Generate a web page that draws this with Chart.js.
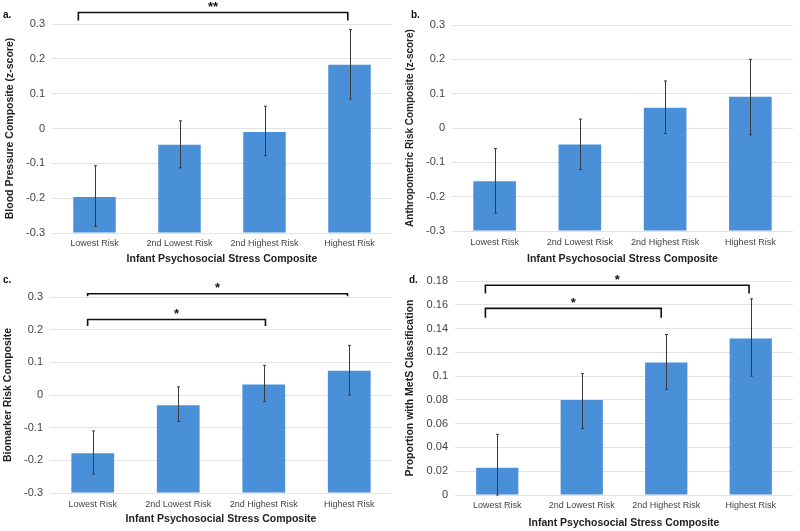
<!DOCTYPE html>
<html>
<head>
<meta charset="utf-8">
<script src="https://cdn.jsdelivr.net/npm/chart.js@4.4.0/dist/chart.umd.min.js"></script>
<style>
  body { margin: 0; background: #fff; }
  .panel { position: absolute; }
</style>
</head>
<body>
<div class="panel" style="left:0;top:0"><canvas id="chartA" width="400" height="265"></canvas></div>
<div class="panel" style="left:400px;top:0"><canvas id="chartB" width="400" height="265"></canvas></div>
<div class="panel" style="left:0;top:265px"><canvas id="chartC" width="400" height="266"></canvas></div>
<div class="panel" style="left:400px;top:265px"><canvas id="chartD" width="400" height="266"></canvas></div>
<script>
const categories = ['Lowest Risk', '2nd Lowest Risk', '2nd Highest Risk', 'Highest Risk'];
const xTitle = 'Infant Psychosocial Stress Composite';

// a. blood pressure
const bpMean = [-0.197, -0.047, -0.010, 0.183];
const bpLow = [-0.281, -0.113, -0.078, 0.085];
const bpHigh = [-0.107, 0.022, 0.064, 0.284];
const bpBrackets = [{ from: -0.19, to: 2.98, level: 0.333, end: 0.31, text: '**' }];

// b. anthropometric
const anMean = [-0.155, -0.048, 0.059, 0.091];
const anLow = [-0.248, -0.121, -0.016, -0.020];
const anHigh = [-0.060, 0.026, 0.137, 0.200];

// c. biomarker
const bioMean = [-0.178, -0.031, 0.032, 0.074];
const bioLow = [-0.242, -0.081, -0.020, 0.000];
const bioHigh = [-0.110, 0.025, 0.091, 0.152];
const bioBrackets = [
    { from: -0.06, to: 2.02, level: 0.231, end: 0.211, text: '*' },
    { from: -0.06, to: 2.98, level: 0.310, end: 0.302, text: '*' }
];

// d. MetS proportion
const metsMean = [0.023, 0.080, 0.1115, 0.1317];
const metsLow = [0.000, 0.056, 0.0888, 0.100];
const metsHigh = [0.051, 0.102, 0.135, 0.165];
const metsBrackets = [
    { from: -0.14, to: 1.94, level: 0.157, end: 0.149, text: '*' },
    { from: -0.14, to: 2.98, level: 0.1764, end: 0.1694, text: '*' }
];

const BAR_COLOR = '#4a90d9';
const FONT = '"Liberation Sans", Arial, sans-serif';

const extrasPlugin = {
    id: 'extras',
    afterDatasetsDraw(chart, args, opts) {
        const ctx = chart.ctx;
        const x = chart.scales.x, y = chart.scales.y;
        ctx.save();
        // error bars
        ctx.strokeStyle = '#3a3a3a';
        ctx.lineWidth = 1;
        opts.low.forEach((lo, i) => {
            const px = Math.round(x.getPixelForValue(i)) + 0.5;
            const y1 = y.getPixelForValue(lo), y2 = y.getPixelForValue(opts.high[i]);
            ctx.beginPath();
            ctx.moveTo(px, y1); ctx.lineTo(px, y2);
            ctx.moveTo(px - 1.5, y1); ctx.lineTo(px + 1.5, y1);
            ctx.moveTo(px - 1.5, y2); ctx.lineTo(px + 1.5, y2);
            ctx.stroke();
        });
        // significance brackets
        ctx.strokeStyle = '#111';
        ctx.fillStyle = '#111';
        ctx.lineWidth = 1.6;
        ctx.textAlign = 'center';
        ctx.textBaseline = 'middle';
        ctx.font = 'bold 13px ' + FONT;
        (opts.brackets || []).forEach(b => {
            const x1 = x.getPixelForValue(b.from), x2 = x.getPixelForValue(b.to);
            const yl = y.getPixelForValue(b.level), ye = y.getPixelForValue(b.end);
            ctx.beginPath();
            ctx.moveTo(x1, ye); ctx.lineTo(x1, yl); ctx.lineTo(x2, yl); ctx.lineTo(x2, ye);
            ctx.stroke();
            ctx.fillText(b.text, (x1 + x2) / 2, yl - 5);
        });
        // panel letter
        ctx.font = 'bold 10px ' + FONT;
        ctx.textAlign = 'left';
        ctx.fillText(opts.letter, opts.letterX, opts.letterY);
        ctx.restore();
    }
};

function fmt(v) {
    return String(parseFloat(v.toFixed(3)));
}

function makeChart(id, p) {
    new Chart(document.getElementById(id), {
        type: 'bar',
        data: {
            labels: categories,
            datasets: [{
                data: p.mean,
                base: p.min,
                backgroundColor: BAR_COLOR,
                categoryPercentage: 1,
                barPercentage: 0.5
            }]
        },
        plugins: [extrasPlugin],
        options: {
            responsive: false,
            animation: false,
            devicePixelRatio: 1,
            layout: { padding: { top: p.top, right: p.right, left: 0, bottom: p.bottom } },
            plugins: {
                legend: { display: false },
                tooltip: { enabled: false },
                extras: {
                    low: p.low, high: p.high, brackets: p.brackets,
                    letter: p.letter, letterX: p.letterX, letterY: 15
                }
            },
            scales: {
                x: {
                    grid: { display: false, drawTicks: false },
                    border: { display: false },
                    ticks: { color: '#444', font: { family: FONT, size: 9 }, padding: p.tickPad, maxRotation: 0 },
                    title: { display: true, text: xTitle, color: '#222', font: { family: FONT, size: 10.5, weight: 'bold' }, padding: { top: 0, bottom: 0 } },
                    afterFit(s) { s.height = p.xh; }
                },
                y: {
                    min: p.min, max: p.max,
                    grid: { color: '#e2e2e2', drawTicks: false },
                    border: { display: false },
                    ticks: { stepSize: p.step, color: '#444', font: { family: FONT, size: 11 }, padding: 7, callback: fmt },
                    title: { display: true, text: p.yTitle, color: '#222', font: { family: FONT, size: p.ytSize, weight: 'bold' }, padding: { top: p.titlePad, bottom: 0 } },
                    afterFit(s) { s.width = p.yw; }
                }
            }
        }
    });
}

makeChart('chartA', {
    mean: bpMean, low: bpLow, high: bpHigh, brackets: bpBrackets,
    min: -0.3, max: 0.3, step: 0.1, yTitle: 'Blood Pressure Composite (z-score)', ytSize: 10.5,
    top: 24, right: 8, bottom: 0, xh: 32, yw: 52, titlePad: 4, tickPad: 5, letter: 'a.', letterX: 3
});
makeChart('chartB', {
    mean: anMean, low: anLow, high: anHigh, brackets: [],
    min: -0.3, max: 0.3, step: 0.1, yTitle: 'Anthropometric Risk Composite (z-score)', ytSize: 10,
    top: 25, right: 7, bottom: 0, xh: 34, yw: 52, titlePad: 4, tickPad: 6, letter: 'b.', letterX: 11
});
makeChart('chartC', {
    mean: bioMean, low: bioLow, high: bioHigh, brackets: bioBrackets,
    min: -0.3, max: 0.3, step: 0.1, yTitle: 'Biomarker Risk Composite', ytSize: 10.5,
    top: 32, right: 8, bottom: 6, xh: 32, yw: 50, titlePad: 2, tickPad: 6, letter: 'c.', letterX: 3
});
makeChart('chartD', {
    mean: metsMean, low: metsLow, high: metsHigh, brackets: metsBrackets,
    min: 0, max: 0.18, step: 0.02, yTitle: 'Proportion with MetS Classification', ytSize: 10.5,
    top: 16, right: 7, bottom: 2, xh: 34, yw: 55, titlePad: 4, tickPad: 5, letter: 'd.', letterX: 9
});
</script>
</body>
</html>
